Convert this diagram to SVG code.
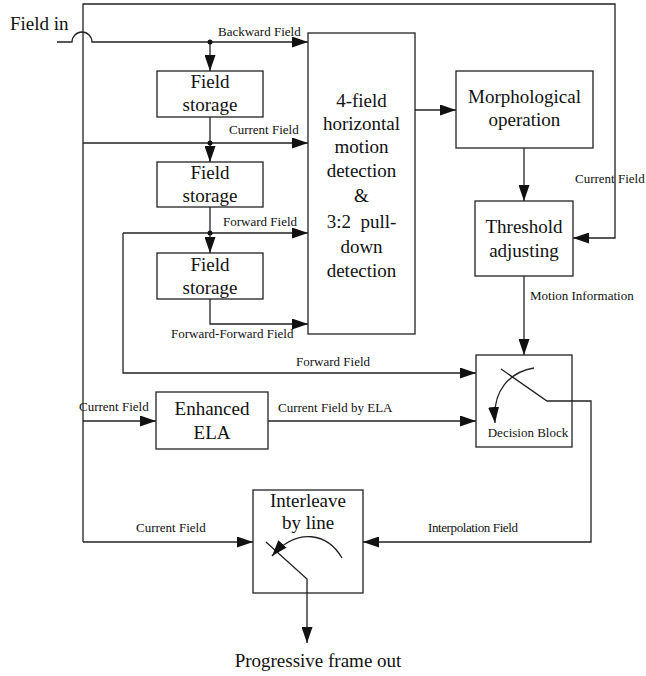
<svg xmlns="http://www.w3.org/2000/svg" width="646" height="676" viewBox="0 0 646 676">
<style>
.box{fill:#fff;stroke:#222;stroke-width:1.3}
.ln{fill:none;stroke:#222;stroke-width:1.3}
.arr{marker-end:url(#ah)}
text{font-family:'Liberation Serif','Times New Roman',serif;fill:#111}
.big{font-size:19px;text-anchor:middle}
.sm{font-size:13px}
.dot{fill:#111}
</style>
<defs>
<marker id="ah" viewBox="0 0 16 11" refX="16" refY="5.5" markerWidth="16" markerHeight="11" markerUnits="userSpaceOnUse" orient="auto">
<path d="M0,0 L16,5.5 L0,11 z" fill="#111"/>
</marker>
</defs>
<rect width="646" height="676" fill="#fff"/>

<g id="connectors">
<path class="ln arr" d="M57,42 H72 A10,10 0 0 1 92,42 H308"/>
<path class="ln arr" d="M83,542 V4 H615 V238 H573"/>
<path class="ln arr" d="M83,542 H253"/>
<path class="ln arr" d="M83,143 H308"/>
<path class="ln arr" d="M83,421 H156"/>
<path class="ln arr" d="M210,42 V71"/>
<path class="ln arr" d="M210,117 V162"/>
<path class="ln arr" d="M210,207 V253"/>
<path class="ln arr" d="M123,233 H308"/>
<path class="ln arr" d="M123,233 V373 H476"/>
<path class="ln arr" d="M210,299 V324 H308"/>
<path class="ln arr" d="M415,110 H456"/>
<path class="ln arr" d="M524,148 V201"/>
<path class="ln arr" d="M524,276 V355"/>
<path class="ln arr" d="M268,421 H476"/>
<path class="ln arr" d="M501,369 L547,401 H591 V542 H363"/>
<path class="ln arr" d="M534,368 C510,372 492,390 495,423"/>
<path class="ln arr" d="M266,542 L307,579 V643"/>
<path class="ln arr" d="M342,558 C328,534 298,526 272,556"/>
<circle class="dot" cx="210" cy="42" r="2.5"/>
<circle class="dot" cx="210" cy="143" r="2.5"/>
<circle class="dot" cx="210" cy="233" r="2.5"/>
</g>

<g id="labels">
<text class="big" x="10" y="30" style="text-anchor:start">Field in</text>
<text class="sm" x="218" y="36">Backward Field</text>
<text class="sm" x="229" y="134">Current Field</text>
<text class="sm" x="223" y="226">Forward Field</text>
<text class="sm" x="171" y="338">Forward-Forward Field</text>
<text class="sm" x="575" y="183">Current Field</text>
<text class="sm" x="530" y="300">Motion Information</text>
<text class="sm" x="296" y="366">Forward Field</text>
<text class="sm" x="79" y="411">Current Field</text>
<text class="sm" x="278" y="412">Current Field by ELA</text>
<text class="sm" x="136" y="532">Current Field</text>
<text class="sm" x="428" y="532" style="letter-spacing:-0.4px">Interpolation Field</text>
<text class="big" x="318" y="667">Progressive frame out</text>
</g>

<g id="storage1">
<rect class="box" x="157" y="71" width="106" height="46"/>
<text class="big" x="210" y="88">Field</text>
<text class="big" x="210" y="111">storage</text>
</g>
<g id="storage2">
<rect class="box" x="157" y="162" width="106" height="45"/>
<text class="big" x="210" y="179">Field</text>
<text class="big" x="210" y="202">storage</text>
</g>
<g id="storage3">
<rect class="box" x="157" y="253" width="106" height="46"/>
<text class="big" x="210" y="271">Field</text>
<text class="big" x="210" y="294">storage</text>
</g>
<g id="motion-detection">
<rect class="box" x="308" y="33" width="107" height="301"/>
<text class="big" x="361.5" y="107">4-field</text>
<text class="big" x="361.5" y="130">horizontal</text>
<text class="big" x="361.5" y="153">motion</text>
<text class="big" x="361.5" y="177">detection</text>
<text class="big" x="361.5" y="202">&amp;</text>
<text class="big" x="361.5" y="228" style="white-space:pre">3:2  pull-</text>
<text class="big" x="361.5" y="253">down</text>
<text class="big" x="361.5" y="277">detection</text>
</g>
<g id="morphological">
<rect class="box" x="456" y="71" width="137" height="77"/>
<text class="big" x="524.5" y="103">Morphological</text>
<text class="big" x="524.5" y="126">operation</text>
</g>
<g id="threshold">
<rect class="box" x="475" y="201" width="98" height="75"/>
<text class="big" x="524" y="233">Threshold</text>
<text class="big" x="524" y="257">adjusting</text>
</g>
<g id="decision">
<rect class="box" x="476" y="355" width="96" height="92" style="fill:none"/>
<text class="sm" x="528" y="437" style="text-anchor:middle">Decision Block</text>
</g>
<g id="ela">
<rect class="box" x="156" y="392" width="112" height="57"/>
<text class="big" x="212" y="415">Enhanced</text>
<text class="big" x="212" y="439">ELA</text>
</g>
<g id="interleave">
<rect class="box" x="253" y="490" width="110" height="103" style="fill:none"/>
<text class="big" x="308" y="507">Interleave</text>
<text class="big" x="308" y="529">by line</text>
</g>
</svg>
